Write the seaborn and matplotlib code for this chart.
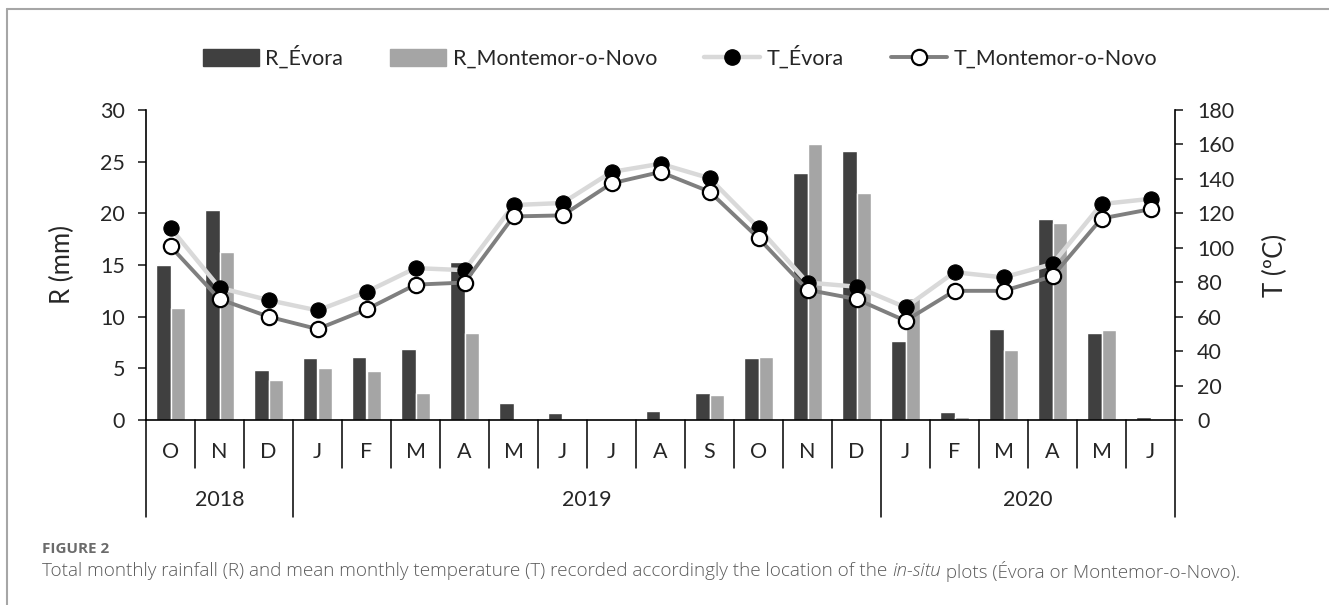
import numpy as np
import pandas as pd
import matplotlib
matplotlib.use("Agg")
import matplotlib.pyplot as plt
from matplotlib.patches import Patch
from matplotlib.lines import Line2D
import seaborn as sns

# data
months = ["O", "N", "D", "J", "F", "M", "A", "M", "J", "J", "A", "S",
          "O", "N", "D", "J", "F", "M", "A", "M", "J"]
years = ["2018", "2019", "2020"]
year_spans = [(0, 2), (3, 14), (15, 20)]

r_evora = [15.0, 20.3, 4.8, 6.0, 6.1, 6.9, 15.3, 1.6, 0.65, 0.0, 0.9, 2.6,
           6.0, 23.9, 26.0, 7.6, 0.8, 8.8, 19.5, 8.4, 0.3]
r_montemor = [10.8, 16.3, 3.9, 5.0, 4.7, 2.6, 8.4, 0.0, 0.0, 0.0, 0.0, 2.4,
              6.1, 26.7, 22.0, 11.8, 0.3, 6.8, 19.1, 8.7, 0.1]
t_evora = [18.6, 12.8, 11.6, 10.6, 12.4, 14.7, 14.5, 20.8, 21.0, 24.0, 24.8, 23.4,
           18.6, 13.3, 12.9, 10.9, 14.3, 13.8, 15.1, 20.9, 21.4]
t_montemor = [16.8, 11.7, 10.0, 8.8, 10.7, 13.1, 13.3, 19.7, 19.8, 22.9, 24.0, 22.1,
              17.6, 12.6, 11.7, 9.6, 12.5, 12.5, 13.9, 19.5, 20.4]

sites = ["R_Évora", "R_Montemor-o-Novo"]
bar_colors = ["#404040", "#a5a5a5"]

sns.set_style("white")
plt.rcParams["font.family"] = ["Lato", "DejaVu Sans"]

idx = np.arange(len(months))
df = pd.DataFrame({
    "idx": np.concatenate([idx, idx]),
    "R": r_evora + r_montemor,
    "site": [sites[0]] * len(idx) + [sites[1]] * len(idx),
})

W, H = 1329, 605
fig = plt.figure(figsize=(W / 100, H / 100), dpi=100)
ax = fig.add_axes([146 / W, 1 - 420 / H, (1175 - 146) / W, 310 / H])

sns.barplot(data=df, x="idx", y="R", hue="site", palette=bar_colors,
            width=0.58, gap=0, saturation=1, legend=False, ax=ax)

sns.lineplot(x=idx, y=t_evora, ax=ax, color="#d9d9d9", lw=3.2, marker="o",
             markersize=11, markerfacecolor="black", markeredgecolor="black", zorder=4)
sns.lineplot(x=idx, y=t_montemor, ax=ax, color="#7f7f7f", lw=2.8, marker="o",
             markersize=11, markerfacecolor="white", markeredgecolor="black",
             markeredgewidth=1.6, zorder=5)

ax.set_xlim(-0.5, len(months) - 0.5)
ax.set_ylim(0, 30)
ax.set_yticks(range(0, 31, 5))
ax.set_xticks([])
ax.set_xlabel("")
ax.set_ylabel("R (mm)", fontsize=18.5)
ax.yaxis.set_label_coords(-0.069, 0.5)
ax.tick_params(axis="y", left=True, length=6, width=1.2, labelsize=15.5, pad=9)
for s in ["top", "right"]:
    ax.spines[s].set_visible(False)
for s in ["left", "bottom"]:
    ax.spines[s].set_color("black")
    ax.spines[s].set_linewidth(1.2)

ax2 = ax.twinx()
ax2.set_ylim(0, 180)
ax2.set_yticks(range(0, 181, 20))
ax2.set_ylabel("T (ºC)", fontsize=18.5, rotation=90)
ax2.yaxis.set_label_coords(1.0855, 0.5)
ax2.tick_params(axis="y", right=True, length=6, width=1.2, labelsize=15.5, pad=10)
for s in ["top", "left", "bottom"]:
    ax2.spines[s].set_visible(False)
ax2.spines["right"].set_color("black")
ax2.spines["right"].set_linewidth(1.2)

# two-level category axis
tr = ax.get_xaxis_transform()
boundaries = [a - 0.5 for a, b in year_spans] + [len(months) - 0.5]
for b in np.arange(-0.5, len(months), 1.0):
    low = -0.313 if b in boundaries else -0.155
    ax.plot([b, b], [0, low], transform=tr, color="black", lw=1.1, clip_on=False)
for i, m in enumerate(months):
    ax.text(i, -0.103, m, transform=tr, ha="center", va="center", fontsize=15.5)
for y, (a, b) in zip(years, year_spans):
    ax.text((a + b) / 2, -0.258, y, transform=tr, ha="center", va="center", fontsize=15.5)

handles = [Patch(color=bar_colors[0], label=sites[0]),
           Patch(color=bar_colors[1], label=sites[1]),
           Line2D([], [], color="#d9d9d9", lw=3.2, marker="o", markersize=11,
                  markerfacecolor="black", markeredgecolor="black", label="T_Évora"),
           Line2D([], [], color="#7f7f7f", lw=2.8, marker="o", markersize=11,
                  markerfacecolor="white", markeredgecolor="black", markeredgewidth=1.6,
                  label="T_Montemor-o-Novo")]
fig.legend(handles=handles, loc="center", bbox_to_anchor=(680 / W, 1 - 57 / H),
           ncol=4, frameon=False, fontsize=15.5, handlelength=2.6, handleheight=0.85,
           handletextpad=0.3, columnspacing=2.2)

# frame around the figure panel
fig.add_artist(Line2D([7 / W, 7 / W], [0, 1 - 9 / H], color="#a6a6a6", lw=1.5))
fig.add_artist(Line2D([7 / W, 1], [1 - 9 / H, 1 - 9 / H], color="#a6a6a6", lw=1.5))

# caption
fig.text(42 / W, 1 - 549 / H, "FIGURE 2", fontsize=11, weight="bold",
         color="#6b6b6b", va="center", family="Open Sans")
parts = [("Total monthly rainfall (R) and mean monthly temperature (T) recorded accordingly the location of the ", "normal"),
         ("in-situ", "italic"),
         (" plots (Évora or Montemor-o-Novo).", "normal")]


def caption(size):
    fig.canvas.draw()
    rend = fig.canvas.get_renderer()
    x = 42 / W
    made = []
    for txt, st in parts:
        t = fig.text(x, 1 - 571 / H, txt, fontsize=size, style=st, color="#5a5a5a",
                     va="center", family="Open Sans", weight="light")
        bb = t.get_window_extent(renderer=rend)
        x = bb.x1 / W
        made.append(t)
    return made, x * W - 42


made, width = caption(12)
for t in made:
    t.remove()
caption(12 * 1200 / width)

fig.savefig("out.png", dpi=100)
